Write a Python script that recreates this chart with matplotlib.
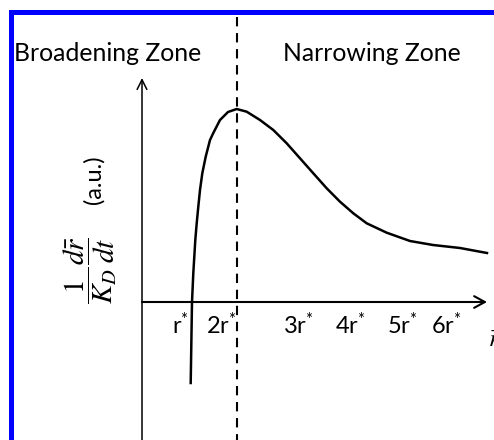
import matplotlib
matplotlib.use("Agg")
import matplotlib.pyplot as plt
from matplotlib.patches import Rectangle

plt.rcParams["mathtext.fontset"] = "custom"
plt.rcParams["mathtext.rm"] = "Lato"
plt.rcParams["mathtext.it"] = "Lato:italic"

# schematic growth-rate curve (a.u.), origin at the axes crossing
curve_x = [48.7, 50, 51.3, 52.3, 53.3, 54.7, 56.3, 58, 60.3, 63.7, 68, 71.3,
           78, 86, 94.7, 104.7, 118, 131.3, 144.7, 158, 171.3, 184.7, 198,
           211.3, 224.7, 244.7, 268, 291, 318, 345]
curve_y = [-81, 0, 28.7, 45.3, 62, 78.7, 95.3, 112, 128.7, 145.3, 162, 169,
           182, 190, 193, 190.3, 182, 172, 158.7, 143.7, 128.7, 113.7, 100.3,
           88.7, 78.7, 69.3, 61, 57, 54, 49]

tick_pos = [38, 79, 156, 208, 260, 304]
tick_labels = ["r", "2r", "3r", "4r", "5r", "6r"]
peak_x = 95
zone_labels = ["Broadening Zone", "Narrowing Zone"]

fig = plt.figure(figsize=(4.94, 4.40), dpi=100)
ax = fig.add_axes([0, 0, 1, 1])
ax.set_xlim(-142, 352)
ax.set_ylim(-138, 302)
ax.axis("off")

# blue frame (top and left only)
ax.add_patch(Rectangle((-133, 287), 490, 5, color="#0000ff", lw=0, clip_on=False))
ax.add_patch(Rectangle((-133, -140), 5, 432, color="#0000ff", lw=0, clip_on=False))

# axes arrows
ax.annotate("", xy=(0, 224), xytext=(0, -140),
            arrowprops=dict(arrowstyle="->,head_length=0.5,head_width=0.25",
                            lw=1.1, color="black", shrinkA=0, shrinkB=0,
                            mutation_scale=14))
ax.annotate("", xy=(345, 0), xytext=(0, 0),
            arrowprops=dict(arrowstyle="->,head_length=0.55,head_width=0.3",
                            lw=1.5, color="black", shrinkA=0, shrinkB=0,
                            mutation_scale=14))

# zone separator
ax.plot([peak_x, peak_x], [285, -140], color="black", lw=1.5,
        linestyle=(0, (4.5, 3.2)))

ax.plot(curve_x, curve_y, color="black", lw=1.8, solid_joinstyle="round")

for x, lab in zip(tick_pos, tick_labels):
    ax.text(x, -23, lab + r"$^{*}$", fontsize=17, family="Lato",
            math_fontfamily="custom", ha="center", va="center")

ax.text(346, -38, r"$\bar{r}$", fontsize=18, math_fontfamily="stix",
        ha="left", va="center")

ax.text(-128, 249, zone_labels[0], fontsize=17.8, family="Lato",
        ha="left", va="center")
ax.text(141, 249, zone_labels[1], fontsize=17.8, family="Lato",
        ha="left", va="center")

# y label
ax.text(-52, 32, r"$\dfrac{1}{K_D}\dfrac{d\bar{r}}{dt}$", fontsize=21,
        math_fontfamily="stix", rotation=90, ha="center", va="center")
ax.text(-48, 122, "(a.u.)", fontsize=17, family="Lato", rotation=90,
        ha="center", va="center")

fig.savefig("out.png", dpi=100)
